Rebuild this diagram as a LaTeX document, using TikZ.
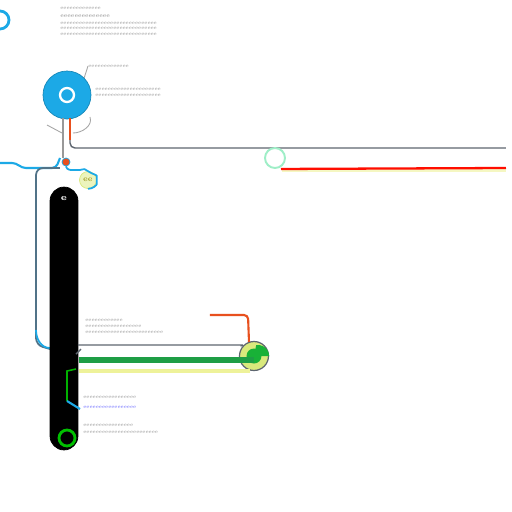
\documentclass[tikz,border=0pt]{standalone}
\usepackage{tikz}
\usetikzlibrary{calc,positioning}
\definecolor{hubblue}{HTML}{1CA9E6}
\definecolor{wiregray}{HTML}{5E6670}
\definecolor{leafgreen}{HTML}{1E9E45}
\definecolor{limefill}{HTML}{D9E97C}
\definecolor{paleyellow}{HTML}{EEF29A}
\definecolor{rust}{HTML}{E8501E}
\tikzset{
    x=0.02cm,y=-0.02cm,
    note/.style ={inner sep=0pt, anchor=west, text=gray!85, font=\fontsize{2.9}{3}\selectfont},
    wire/.style ={draw=wiregray, line width=0.8pt, rounded corners=0.1cm},
    blueline/.style ={draw=hubblue, line width=1.2pt, rounded corners=0.08cm},
    ringnode/.style ={circle, draw, inner sep=0pt},
    whisker/.style ={draw=gray!70, line width=0.5pt}
}
\begin{document}
\begin{tikzpicture}
    \clip (0,0) rectangle (512,512);
    \fill[white] (0,0) rectangle (512,512);

%%Top left corner
    \node[ringnode, draw=hubblue, line width=1.6pt, minimum size=0.36cm] (corner) at (0,20) {};
    \node[note] (t1) at (60,8) {eeeeeeeeeeeee};
    \node[note, text=gray!95, font=\fontsize{3.3}{3}\selectfont] (t2) at (60,16) {eeeeeeeeeeeeee};
    \node[note] (t3) at (60,23) {eeeeeeeeeeeeeeeeeeeeeeeeeeeeeee};
    \node[note] (t4) at (60,28) {eeeeeeeeeeeeeeeeeeeeeeeeeeeeeee};
    \node[note] (t5) at (60,34) {eeeeeeeeeeeeeeeeeeeeeeeeeeeeeee};

%%Hub
    \node[ringnode, fill=hubblue, draw=hubblue!80!black, minimum size=0.96cm] (hub) at (67,95) {};
    \node[ringnode, draw=white, line width=1.3pt, minimum size=0.28cm] (core) at (hub) {};
    \node[note] (h1) at (88,66) {eeeeeeeeeeeee};
    \node[note] (h2) at (95,89) {eeeeeeeeeeeeeeeeeeeee};
    \node[note] (h3) at (95,95) {eeeeeeeeeeeeeeeeeeeee};
    \draw[whisker] (hub.north east) -- (h1.west);

    % wires under the hub
    \coordinate (redtop) at (70,118);
    \coordinate (redend) at (70,140);
    \coordinate (eastgray) at (506,148);
    \coordinate (stemtop) at (63,118);
    \coordinate (stemend) at (63,158);
    \draw[rust, line width=1.2pt] (redtop) -- (redend);
    \draw[wire] (redend) |- (eastgray);
    \draw[wire, draw=gray!80] (stemtop) -- (stemend);
    \draw[whisker] (47,125) -- (62,133);
    \draw[whisker] (90,117) to[out=-70,in=0] (73,133);

%%Valve and gear
    \node[ringnode, fill=rust, draw=hubblue, minimum size=0.16cm] (valve) at (66,162) {};
    \coordinate (westblue) at (0,163);
    \draw[blueline] (westblue) -- (16,163) -- (22,168) -- (56,168) -- (60,158);
    \node[ringnode, fill=limefill!50, draw=limefill, minimum size=0.34cm, font=\fontsize{4.5}{4}\selectfont, text=olive] (gear) at (88,180) {ee};
    \draw[blueline, line width=1pt] (valve.south) to[out=-80,in=180] (76,170)
        to[out=0,in=150] (gear.north) to[out=-30,in=90] (gear.east) to[out=-90,in=0] (gear.south);

    % dark side wire
    \draw[wire, draw=wiregray!80!hubblue, line width=1pt, rounded corners=0.14cm] (60,168) -- (36,168) -- (36,345) -- (50,349);
    \draw[blueline, line width=1pt] (36,330) to[out=-90,in=180] (50,348);

%%Spine
    \node[draw=black, fill=black, rounded corners=0.28cm, minimum width=0.56cm, minimum height=5.26cm, inner sep=0pt] (spine) at (64,318.5) {};
    \node[text=white, font=\fontsize{5}{5}\selectfont\bfseries, inner sep=0pt] (tag) at (64,199) {e};
    \node[ringnode, draw=green!75!black, line width=1.6pt, minimum size=0.32cm] (ring) at (67,438) {};

%%Right eye
    \fill[paleyellow!60] (282,169) rectangle (506,172);
    \node[ringnode, draw=hubblue!50!green!40, line width=1.1pt, fill=white, minimum size=0.4cm] (eye) at (275,158) {};
    \coordinate (eastred) at (506,168);
    \draw[red!90!orange, line width=1.3pt] (eye.south) ++(6,0) -- (eastred);

%%Lens at the bottom
    \node[note] (b1) at (85,320) {eeeeeeeeeeee};
    \node[note] (b2) at (85,326) {eeeeeeeeeeeeeeeeee};
    \node[note] (b3) at (85,332) {eeeeeeeeeeeeeeeeeeeeeeeee};
    \node[ringnode, draw=wiregray, line width=0.7pt, fill=limefill, minimum size=0.58cm] (lens) at (254,356) {};
    \coordinate (spinegray) at (78,345);
    \draw[wire] (spinegray) -- (238,345) to[out=0,in=-135] (lens.north west);
    \draw[rust, line width=1.2pt, rounded corners=0.08cm] (210,315) -- (248,315) -- (249,342);
    \draw[paleyellow, line width=1.8pt] (79,371) -- (250,371);
    \fill[leafgreen!80!green] (lens.east) arc (0:100:0.22cm) -- (lens.center) -- cycle;
    \fill[leafgreen!80!green] (lens.center) circle (0.15cm);
    \draw[leafgreen, line width=3.4pt] (79,360) -- (254,360);
    \draw[wiregray, line width=0.8pt] (76,354) -- (81,349);

    % thin wires over the spine
    \draw[green!70!black, line width=0.9pt] (76,369) -- (67,371) -- (67,401);
    \draw[hubblue, line width=1.2pt] (67,401) -- (80,409);
    \node[note] (b4) at (83,397) {eeeeeeeeeeeeeeeee};
    \node[note, text=blue!60] (b5) at (83,407) {eeeeeeeeeeeeeeeee};
    \node[note] (b6) at (83,425) {eeeeeeeeeeeeeeee};
    \node[note] (b7) at (83,432) {eeeeeeeeeeeeeeeeeeeeeeee};
\end{tikzpicture}
\end{document}
